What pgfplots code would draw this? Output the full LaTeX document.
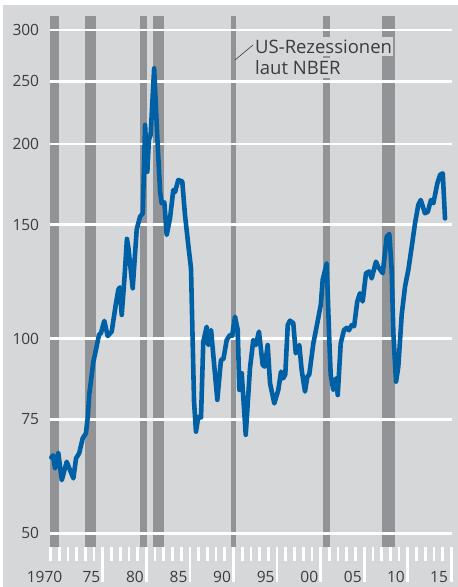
\documentclass[border=0pt]{standalone}
\usepackage{fontspec}
\setmainfont{Open Sans}
\usepackage{pgfplots}
\pgfplotsset{compat=1.18}
\definecolor{bg}{RGB}{214,215,217}
\definecolor{rec}{RGB}{146,147,151}
\definecolor{blu}{RGB}{0,96,166}
\definecolor{txt}{RGB}{60,60,60}
\begin{document}
\begin{tikzpicture}[x=1pt,y=1pt]
\useasboundingbox (0,0) rectangle (458,587);
\fill[white] (0,0) rectangle (458,587);
\fill[bg] (3,0) rectangle (458,582);
\begin{axis}[
  at={(50pt,39.7pt)}, anchor=south west,
  scale only axis, width=402pt, height=531.3pt,
  xmin=1969.85, xmax=2015.98,
  ymode=log, ymin=47.57, ymax=315.3,
  axis line style={draw=none},
  /pgf/number format/assume math mode=true,
  ytick={50,75,100,150,200,250,300},
  yticklabels={50,75,100,150,200,250,300},
  ytick align=inside,
  ytick pos=left,
  ytick style={draw=none},
  yticklabel style={anchor=east, inner sep=0pt, xshift=-10.7pt, font=\fontsize{15.5}{16}\selectfont, text=txt},
  xtick={1975.9,1980.9,1985.9,1990.9,1995.9,2000.9,2005.9,2010.9,2015.9},
  xticklabels={},
  minor xtick={1969.9,1970.9,1971.9,1972.9,1973.9,1974.9,1976.9,1977.9,1978.9,1979.9,1981.9,1982.9,1983.9,1984.9,1986.9,1987.9,1988.9,1989.9,1991.9,1992.9,1993.9,1994.9,1996.9,1997.9,1998.9,1999.9,2001.9,2002.9,2003.9,2004.9,2006.9,2007.9,2008.9,2009.9,2011.9,2012.9,2013.9,2014.9},
  xtick pos=left,
  xtick align=outside,
  major tick length=35pt, minor tick length=13.7pt,
  every tick/.style={white, line width=2.7pt},
  extra x ticks={1974.6,1979.6,1984.6,1989.6,1994.6,1999.6,2004.6,2009.55,2014.5},
  extra x tick labels={75,80,85,90,95,00,05,10,15},
  extra x tick style={major tick length=0pt, tick style={draw=none},
    xticklabel style={anchor=base, yshift=-35.4pt, inner sep=0pt, font=\fontsize{15.5}{16}\selectfont, text=txt}},
  clip=false,
]
% recession bars (NBER)
\addplot[fill=rec, draw=none, forget plot] coordinates {(1969.85,47.57) (1969.85,315.3) (1970.88,315.3) (1970.88,47.57)};
\addplot[fill=rec, draw=none, forget plot] coordinates {(1973.87,47.57) (1973.87,315.3) (1975.13,315.3) (1975.13,47.57)};
\addplot[fill=rec, draw=none, forget plot] coordinates {(1980.18,47.57) (1980.18,315.3) (1980.98,315.3) (1980.98,47.57)};
\addplot[fill=rec, draw=none, forget plot] coordinates {(1981.67,47.57) (1981.67,315.3) (1982.93,315.3) (1982.93,47.57)};
\addplot[fill=rec, draw=none, forget plot] coordinates {(1990.59,47.57) (1990.59,315.3) (1991.20,315.3) (1991.20,47.57)};
\addplot[fill=rec, draw=none, forget plot] coordinates {(2001.18,47.57) (2001.18,315.3) (2001.95,315.3) (2001.95,47.57)};
\addplot[fill=rec, draw=none, forget plot] coordinates {(2007.95,47.57) (2007.95,315.3) (2009.40,315.3) (2009.40,47.57)};
% grid lines
\addplot[white, line width=2.7pt, forget plot] coordinates {(1969.85,50) (2015.98,50)};
\addplot[white, line width=2.7pt, forget plot] coordinates {(1969.85,75) (2015.98,75)};
\addplot[white, line width=2.7pt, forget plot] coordinates {(1969.85,100) (2015.98,100)};
\addplot[white, line width=2.7pt, forget plot] coordinates {(1969.85,150) (2015.98,150)};
\addplot[white, line width=2.7pt, forget plot] coordinates {(1969.85,200) (2015.98,200)};
\addplot[white, line width=2.7pt, forget plot] coordinates {(1969.85,250) (2015.98,250)};
\addplot[white, line width=2.7pt, forget plot] coordinates {(1969.85,300) (2015.98,300)};
% series
\addplot[blu, line width=4.6pt, line join=round, line cap=round] table {
1970.00 65.5
1970.20 66.0
1970.43 63.0
1970.80 66.6
1971.20 60.4
1971.77 64.5
1972.15 62.6
1972.53 60.8
1972.84 65.3
1973.20 66.5
1973.60 70.1
1973.98 71.4
1974.20 76.0
1974.35 82.0
1974.55 86.0
1974.82 92.0
1975.20 97.2
1975.47 101.3
1975.70 102.0
1976.08 106.5
1976.47 100.9
1976.93 102.5
1977.39 112.7
1977.69 118.9
1977.85 120.0
1978.08 108.8
1978.38 123.2
1978.68 142.6
1978.85 138.0
1979.34 119.6
1979.80 147.5
1980.18 154.3
1980.50 156.2
1980.76 213.9
1981.02 181.1
1981.20 203.0
1981.40 206.4
1981.80 261.7
1982.17 204.0
1982.48 168.7
1982.67 161.9
1982.97 162.4
1983.24 144.6
1983.62 153.4
1984.00 169.7
1984.20 168.5
1984.57 175.9
1985.03 174.9
1985.34 155.3
1985.72 139.5
1986.03 128.4
1986.38 79.9
1986.60 71.8
1986.87 75.7
1987.18 75.5
1987.44 98.9
1987.83 104.3
1988.02 97.7
1988.33 103.1
1989.05 80.4
1989.47 92.7
1989.75 93.0
1990.13 99.5
1990.50 101.3
1990.75 101.0
1991.08 108.1
1991.39 103.1
1991.58 83.3
1991.85 88.4
1992.31 71.0
1992.80 90.0
1993.18 99.5
1993.46 97.7
1993.83 102.5
1994.26 91.0
1994.50 90.5
1994.83 97.7
1995.10 85.3
1995.59 79.4
1996.05 83.3
1996.36 88.9
1996.60 86.8
1996.85 88.0
1997.13 104.9
1997.39 106.6
1997.77 105.6
1998.05 94.9
1998.46 97.7
1998.73 89.4
1999.11 82.8
1999.38 87.3
1999.60 88.0
2000.07 98.3
2000.52 105.6
2000.92 112.7
2001.14 123.2
2001.60 130.7
2001.90 99.5
2002.06 87.8
2002.36 83.3
2002.67 86.8
2002.87 81.8
2003.21 98.3
2003.59 103.1
2003.90 103.9
2004.15 103.0
2004.47 104.9
2004.75 104.5
2005.11 114.1
2005.42 117.5
2005.73 114.1
2006.11 126.2
2006.49 127.0
2006.76 123.9
2007.26 131.5
2007.52 129.0
2008.03 126.2
2008.49 143.7
2008.79 145.1
2009.06 127.7
2009.25 101.9
2009.56 85.8
2009.82 90.5
2010.21 108.9
2010.59 120.3
2010.97 127.7
2011.36 138.7
2011.74 150.8
2012.11 160.9
2012.39 163.8
2012.88 156.2
2013.20 157.0
2013.57 163.8
2013.84 161.9
2014.30 173.8
2014.61 179.1
2014.92 180.1
2015.18 153.4
};
\end{axis}
\node[anchor=base, inner sep=0pt, text=txt, font=\fontsize{15.5}{16}\selectfont] at (44.5,4.3) {1970};
\draw[txt, line width=0.6pt] (235,527) -- (253,542);
\node[fill=bg, anchor=base west, inner xsep=1pt, inner ysep=3pt, text=txt, font=\fontsize{18.5}{20}\selectfont] at (254,533.7) {US-Rezessionen};
\node[fill=bg, anchor=base west, inner xsep=1pt, inner ysep=3pt, text=txt, font=\fontsize{18.5}{20}\selectfont] at (254,512) {laut NBER};
\end{tikzpicture}
\end{document}
